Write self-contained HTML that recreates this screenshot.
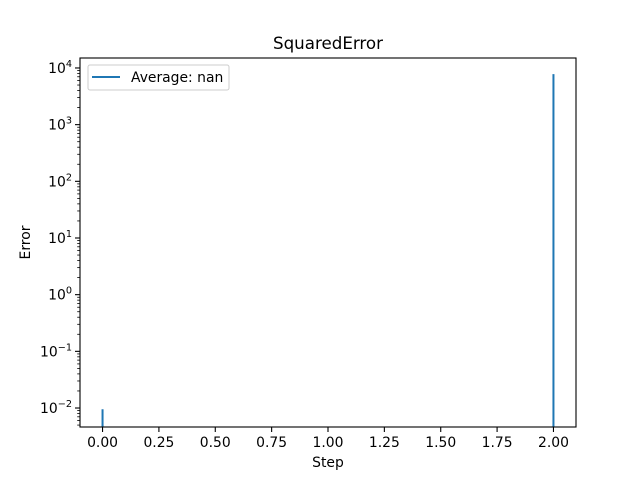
<!DOCTYPE html>
<html><head><meta charset="utf-8"><style>
body{margin:0;background:#fff}
svg{display:block;font-family:"DejaVu Sans","Liberation Sans",sans-serif}
</style></head><body>
<svg id="c" width="640" height="480">
<rect width="640" height="480" fill="#fff"/>
<g id="plot"></g>
</svg>
<script>
const steps = [0, 1, 2];
const errors = [0.0095, 0, 7800];
const xTicks = [0, 0.25, 0.5, 0.75, 1.0, 1.25, 1.5, 1.75, 2.0];
const xTickLabels = ["0.00","0.25","0.50","0.75","1.00","1.25","1.50","1.75","2.00"];
const yExps = [-2, -1, 0, 1, 2, 3, 4];

const L=80,R=576,T=58,B=427;
const xmin=-0.1,xmax=2.1,lmin=-2.335,lmax=4.176;
const X=v=>L+(v-xmin)/(xmax-xmin)*(R-L);
const Y=v=>B-(Math.log10(v)-lmin)/(lmax-lmin)*(B-T);
const NS='http://www.w3.org/2000/svg';
const g=document.getElementById('plot');
function mk(t,a,p){const e=document.createElementNS(NS,t);for(const k in a)e.setAttribute(k,a[k]);(p||g).appendChild(e);return e;}

const defs=mk('defs',{});
const cp=mk('clipPath',{id:'cp'},defs);
mk('rect',{x:L,y:T,width:R-L,height:B-T},cp);

let d='';let pen=false;
for(let i=0;i<steps.length;i++){
  const v=errors[i];
  if(!(v>0)){
    if(pen){d+=`L${X(steps[i-1])},${B+20}`;}
    pen=false;
    if(i+1<steps.length){d+=`M${X(steps[i+1])},${B+20}`;pen=true;}
    continue;
  }
  d+=(pen?'L':'M')+X(steps[i])+','+Y(v);pen=true;
}
const line=mk('path',{d:d,fill:'none',stroke:'#1f77b4','stroke-width':2,'clip-path':'url(#cp)'});



const fr=mk('rect',{x:L,y:T,width:R-L,height:B-T,fill:'none',stroke:'#000','stroke-width':1.1});



xTicks.forEach((t,i)=>{
  const x=X(t);
  mk('line',{x1:x,x2:x,y1:B,y2:B+5,stroke:'#000','stroke-width':1.1});
  const tx=mk('text',{x:x,y:B+20,'text-anchor':'middle','font-size':13.9});
  tx.textContent=xTickLabels[i];
  
  
});
yExps.forEach(e=>{
  const y=Y(Math.pow(10,e));
  mk('line',{x1:L-5,x2:L,y1:y,y2:y,stroke:'#000','stroke-width':1.1});
  const tx=mk('text',{x:L-8,y:y+5,'text-anchor':'end','font-size':13.9});
  tx.textContent='10';
  const s=mk('tspan',{dy:-6,'font-size':9.7},tx);s.textContent=e<0?'\u2212'+(-e):String(e);
  
  
});
for(let e=-3;e<=4;e++)for(let k=2;k<=9;k++){
  const v=k*Math.pow(10,e);const l=Math.log10(v);
  if(l<lmin||l>lmax)continue;
  const y=Y(v);mk('line',{x1:L-2.8,x2:L,y1:y,y2:y,stroke:'#000','stroke-width':0.8});
}
const ti=mk('text',{x:(L+R)/2,y:T-9,'text-anchor':'middle','font-size':16.7});ti.textContent='SquaredError';

const xl=mk('text',{x:(L+R)/2,y:467,'text-anchor':'middle','font-size':13.9});xl.textContent='Step';

const yl=mk('text',{x:30,y:(T+B)/2,'text-anchor':'middle','font-size':13.9,transform:`rotate(-90 30 ${(T+B)/2})`});yl.textContent='Error';

const lg=mk('g',{});

mk('rect',{x:88,y:65,width:141,height:25,rx:2,fill:'#fff',stroke:'#ccc','stroke-width':1},lg);
mk('line',{x1:92,x2:120,y1:77,y2:77,stroke:'#1f77b4','stroke-width':2},lg);
const lt=mk('text',{x:131,y:82,'font-size':13.9},lg);lt.textContent='Average: nan';
</script>
</body></html>
